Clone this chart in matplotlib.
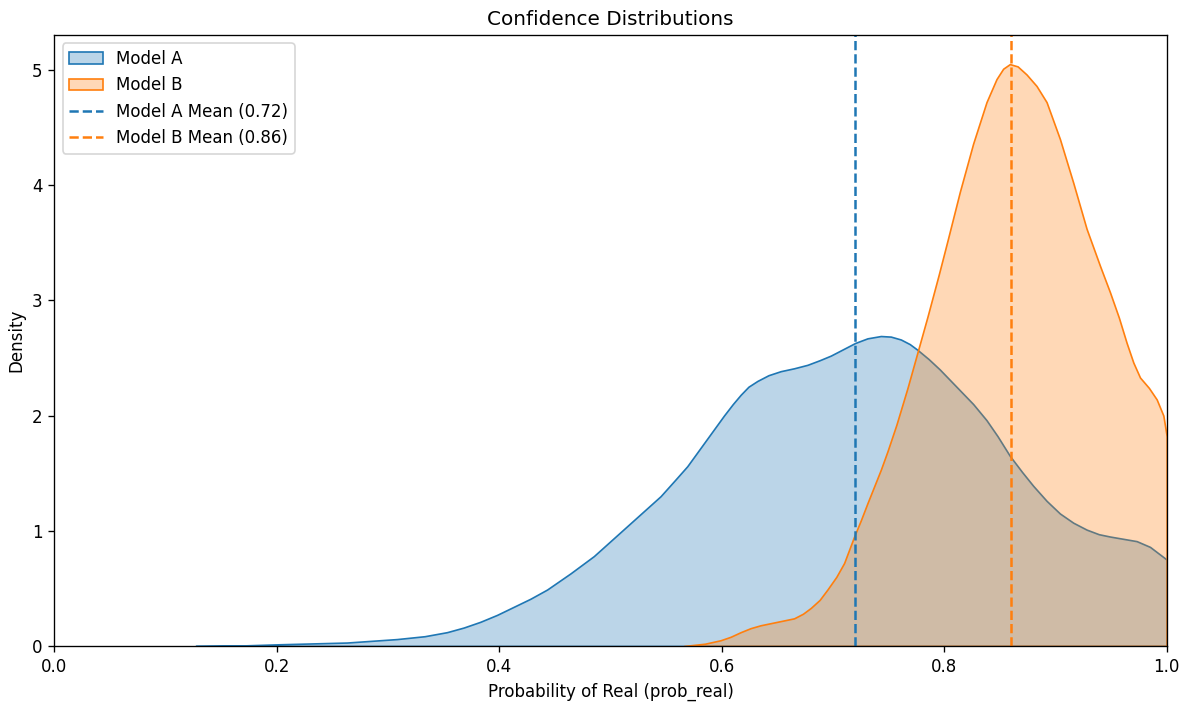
import matplotlib
matplotlib.use("Agg")
import matplotlib.pyplot as plt
from matplotlib.colors import to_rgba

# Kernel density estimates of prob_real for each model (x, density)
model_a_x = [0.127, 0.170, 0.203, 0.263, 0.308, 0.333, 0.353, 0.368, 0.383,
             0.398, 0.413, 0.428, 0.443, 0.464, 0.485, 0.500, 0.515, 0.530,
             0.545, 0.558, 0.569, 0.578, 0.590, 0.602, 0.610, 0.617, 0.624,
             0.632, 0.642, 0.653, 0.665, 0.677, 0.688, 0.698, 0.709, 0.720,
             0.731, 0.743, 0.752, 0.761, 0.769, 0.776, 0.786, 0.796, 0.805,
             0.814, 0.826, 0.838, 0.848, 0.859, 0.870, 0.880, 0.892, 0.904,
             0.916, 0.928, 0.939, 0.949, 0.961, 0.973, 0.985, 1.000]
model_a_y = [0.0, 0.005, 0.015, 0.03, 0.06, 0.085, 0.12, 0.16, 0.21,
             0.27, 0.34, 0.41, 0.49, 0.63, 0.78, 0.91, 1.04, 1.17,
             1.30, 1.44, 1.56, 1.68, 1.84, 2.00, 2.10, 2.18, 2.25,
             2.30, 2.35, 2.385, 2.41, 2.44, 2.48, 2.52, 2.575, 2.63,
             2.67, 2.69, 2.685, 2.66, 2.62, 2.57, 2.49, 2.40, 2.31,
             2.22, 2.10, 1.96, 1.82, 1.65, 1.51, 1.39, 1.26, 1.15,
             1.07, 1.01, 0.97, 0.95, 0.93, 0.91, 0.86, 0.75]

model_b_x = [0.566, 0.585, 0.599, 0.608, 0.617, 0.626, 0.635, 0.650, 0.665,
             0.673, 0.680, 0.688, 0.695, 0.703, 0.710, 0.719, 0.725, 0.731,
             0.743, 0.749, 0.757, 0.767, 0.776, 0.785, 0.795, 0.803, 0.814,
             0.826, 0.838, 0.847, 0.853, 0.859, 0.866, 0.874, 0.883, 0.892,
             0.904, 0.916, 0.928, 0.940, 0.949, 0.957, 0.964, 0.970, 0.976,
             0.984, 0.991, 0.997, 1.000]
model_b_y = [0.0, 0.02, 0.05, 0.08, 0.12, 0.155, 0.18, 0.21, 0.24,
             0.28, 0.33, 0.40, 0.49, 0.60, 0.72, 0.95, 1.09, 1.24,
             1.53, 1.69, 1.92, 2.24, 2.55, 2.86, 3.22, 3.52, 3.94,
             4.36, 4.72, 4.92, 5.01, 5.05, 5.03, 4.96, 4.86, 4.72,
             4.40, 4.02, 3.62, 3.30, 3.07, 2.85, 2.63, 2.46, 2.33,
             2.24, 2.14, 2.00, 1.82]

model_names = ["Model A", "Model B"]
model_means = [0.72, 0.86]
colors = ["#1f77b4", "#ff7f0e"]

fig = plt.figure(figsize=(1181 / 120, 702 / 120), dpi=120)
ax = fig.add_axes([54.3 / 1181, 56 / 702, (1166.7 - 54.3) / 1181, (667 - 56) / 702])

curves = [(model_a_x, model_a_y), (model_b_x, model_b_y)]
for (xs, ys), name, c in zip(curves, model_names, colors):
    ax.fill_between(xs, 0, ys, facecolor=to_rgba(c, 0.3), edgecolor=c,
                    linewidth=1.0, label=name)

for name, m, c in zip(model_names, model_means, colors):
    ax.axvline(m, color=c, linestyle="--", linewidth=1.5,
               label=f"{name} Mean ({m:.2f})")

ax.set_xlim(0, 1)
ax.set_ylim(bottom=0)
ax.set_title("Confidence Distributions")
ax.set_xlabel("Probability of Real (prob_real)")
ax.set_ylabel("Density")
ax.legend(loc="upper left")

fig.savefig("out.png", dpi=120)
